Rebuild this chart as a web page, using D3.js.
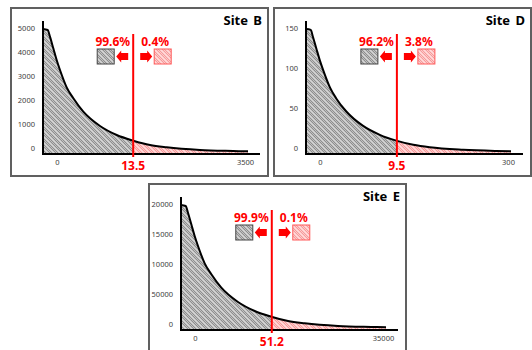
<!DOCTYPE html>
<html><head><meta charset="utf-8">
<script src="https://cdn.jsdelivr.net/npm/d3@7"></script>
<style>body{margin:0;background:#fff}svg{display:block}</style>
</head><body><svg id="c" width="532" height="350"></svg>
<script>
// ---- data ----
const sites = ["Site B", "Site D", "Site E"];
const yMaxes = [5000, 150, 20000];
const xMaxes = [3500, 300, 35000];
const yTickValues = [[0, 1000, 2000, 3000, 4000, 5000], [0, 50, 100, 150], [0, 5000, 10000, 15000, 20000]];
const yTickLabels = [["0", "1000", "2000", "3000", "4000", "5000"], ["0", "50", "100", "150"], ["0", "50000", "10000", "15000", "20000"]];
const xTickValues = [[0, 3500], [0, 300], [0, 35000]];
const xTickLabels = [["0", "3500"], ["0", "300"], ["0", "35000"]];
const cutLabels = ["13.5", "9.5", "51.2"];
const cutPositions = [1540, 133, 15500];
const leftShares = ["99.6%", "96.2%", "99.9%"];
const rightShares = ["0.4%", "3.8%", "0.1%"];
const curveXB = [0, 80, 119, 176, 233, 290, 404, 518, 688, 973, 1258, 1542, 1827, 2111, 2680, 3249, 3500];
const curveYB = [5000, 4960, 4693, 4227, 3760, 3360, 2667, 2227, 1693, 1120, 760, 533, 360, 267, 160, 120, 107];
const curveXD = [0, 7, 10, 15, 20, 25, 35, 44, 59, 83, 108, 132, 157, 181, 230, 278, 300];
const curveYD = [150, 149, 141, 127, 113, 101, 80, 67, 51, 34, 23, 16, 11, 8, 5, 3.6, 3.2];
const curveXE = [0, 800, 1190, 1760, 2330, 2900, 4040, 5180, 6880, 9730, 12580, 15420, 18270, 21110, 26800, 32490, 35000];
const curveYE = [20000, 19840, 18770, 16910, 15040, 13440, 10670, 8910, 6770, 4480, 3040, 2130, 1440, 1070, 640, 480, 430];
const curvesX = [curveXB, curveXD, curveXE];
const curvesY = [curveYB, curveYD, curveYE];

// ---- layout ----
const origins = [[11, 8], [274, 8], [149, 184]];
const W = 257, H = 168;
const RED = "#ff0000";
const svg = d3.select("#c");
const defs = svg.append("defs");

function makePattern(id, base, dark, light) {
  const p = defs.append("pattern").attr("id", id).attr("patternUnits", "userSpaceOnUse")
    .attr("width", 6).attr("height", 6);
  p.append("rect").attr("width", 6).attr("height", 6).attr("fill", base);
  for (let i = 0; i < 6; i++) for (let j = 0; j < 6; j++) {
    if ((i + j) % 2 === 0) p.append("rect").attr("x", i).attr("y", j).attr("width", 1).attr("height", 1).attr("fill", dark);
    if (i === j) p.append("rect").attr("x", i).attr("y", j).attr("width", 1).attr("height", 1).attr("fill", light);
  }
}
makePattern("pg", "#c2c2c2", "#8e8e8e", "#d6d6d6");
makePattern("pp", "#ffcaca", "#f49c9c", "#ffdcdc");

sites.forEach((name, k) => {
  const [ox, oy] = origins[k];
  const g = svg.append("g").attr("transform", `translate(${ox},${oy})`);
  g.append("rect").attr("x", 0).attr("y", 0).attr("width", W).attr("height", H)
    .attr("fill", "#fff").attr("stroke", "#606060").attr("stroke-width", 2);

  const x = d3.scaleLinear().domain([0, xMaxes[k]]).range([32, 237]);
  const y = d3.scaleLinear().domain([0, yMaxes[k]]).range([146, 21]);
  const xl = d3.scaleLinear().domain([0, xMaxes[k]]).range([46, 234]);
  const yl = d3.scaleLinear().domain([0, yMaxes[k]]).range([140, 20]);

  const pts = curvesX[k].map((v, i) => [v, curvesY[k][i]]);
  const cx = x(cutPositions[k]);

  const cl = defs.append("clipPath").attr("id", "cl" + k);
  cl.append("rect").attr("x", 0).attr("y", 0).attr("width", cx).attr("height", H);
  const cr = defs.append("clipPath").attr("id", "cr" + k);
  cr.append("rect").attr("x", cx).attr("y", 0).attr("width", W - cx).attr("height", H);

  const area = d3.area().x(d => x(d[0])).y0(y(0)).y1(d => y(d[1])).curve(d3.curveMonotoneX);
  const line = d3.line().x(d => x(d[0])).y(d => y(d[1])).curve(d3.curveMonotoneX);

  g.append("path").attr("d", area(pts)).attr("fill", "url(#pg)").attr("clip-path", `url(#cl${k})`);
  g.append("path").attr("d", area(pts)).attr("fill", "url(#pp)").attr("clip-path", `url(#cr${k})`);
  g.append("path").attr("d", line(pts)).attr("fill", "none").attr("stroke", "#000").attr("stroke-width", 2);

  // axes lines
  g.append("line").attr("x1", x(0)).attr("x2", x(0)).attr("y1", 13).attr("y2", y(0) + 1)
    .attr("stroke", "#000").attr("stroke-width", 2);
  g.append("line").attr("x1", x(0)).attr("x2", 249).attr("y1", y(0)).attr("y2", y(0))
    .attr("stroke", "#000").attr("stroke-width", 2);

  // tick labels
  const ya = g.append("g").attr("transform", "translate(24,0)")
    .call(d3.axisLeft(yl).tickValues(yTickValues[k]).tickFormat((d, i) => yTickLabels[k][i]).tickSize(0).tickPadding(0));
  ya.select(".domain").remove();
  ya.selectAll("text").attr("font-family", "'Noto Sans', sans-serif").attr("font-size", 7.5).attr("fill", "#404040");
  ya.attr("font-family", null).attr("font-size", null);

  const xa = g.append("g").attr("transform", "translate(0,152)")
    .call(d3.axisBottom(xl).tickValues(xTickValues[k]).tickFormat((d, i) => xTickLabels[k][i]).tickSize(0).tickPadding(0));
  xa.select(".domain").remove();
  xa.selectAll("text").attr("font-family", "'Noto Sans', sans-serif").attr("font-size", 7.5).attr("fill", "#404040");
  xa.attr("font-family", null).attr("font-size", null);

  // cut line
  g.append("line").attr("x1", cx).attr("x2", cx).attr("y1", 26).attr("y2", 149)
    .attr("stroke", RED).attr("stroke-width", 2);
  g.append("text").attr("x", cx).attr("y", 162).attr("text-anchor", "middle")
    .attr("font-family", "'Noto Sans', sans-serif").attr("font-weight", "bold").attr("font-size", 12)
    .attr("fill", RED).text(cutLabels[k]);

  // shares
  g.append("text").attr("x", cx - 3).attr("y", 37.5).attr("text-anchor", "end")
    .attr("font-family", "'Noto Sans', sans-serif").attr("font-weight", "bold").attr("font-size", 12)
    .attr("fill", RED).text(leftShares[k]);
  g.append("text").attr("x", cx + 8).attr("y", 37.5).attr("text-anchor", "start")
    .attr("font-family", "'Noto Sans', sans-serif").attr("font-weight", "bold").attr("font-size", 12)
    .attr("fill", RED).text(rightShares[k]);

  // legend boxes
  g.append("rect").attr("x", cx - 36).attr("y", 41).attr("width", 17).attr("height", 15)
    .attr("fill", "url(#pg)").attr("stroke", "#454545").attr("stroke-width", 1);
  g.append("rect").attr("x", cx + 21).attr("y", 41).attr("width", 17).attr("height", 15)
    .attr("fill", "url(#pp)").attr("stroke", "#ff5a5a").attr("stroke-width", 1);

  // arrows
  const cy = 48.5;
  const la = cx - 17, ra = cx + 19;
  g.append("path").attr("fill", RED).attr("d",
    `M${la},${cy} L${la + 5},${cy - 6} L${la + 5},${cy - 3.5} L${la + 12},${cy - 3.5} L${la + 12},${cy + 3.5} L${la + 5},${cy + 3.5} L${la + 5},${cy + 6} Z`);
  g.append("path").attr("fill", RED).attr("d",
    `M${ra},${cy} L${ra - 5},${cy - 6} L${ra - 5},${cy - 3.5} L${ra - 12},${cy - 3.5} L${ra - 12},${cy + 3.5} L${ra - 5},${cy + 3.5} L${ra - 5},${cy + 6} Z`);

  // title
  g.append("text").attr("x", 251).attr("y", 17).attr("text-anchor", "end")
    .attr("font-family", "'Noto Sans', sans-serif").attr("font-weight", "bold").attr("font-size", 13)
    .attr("fill", "#000").attr("word-spacing", 2).text(name);
});
</script></body></html>
